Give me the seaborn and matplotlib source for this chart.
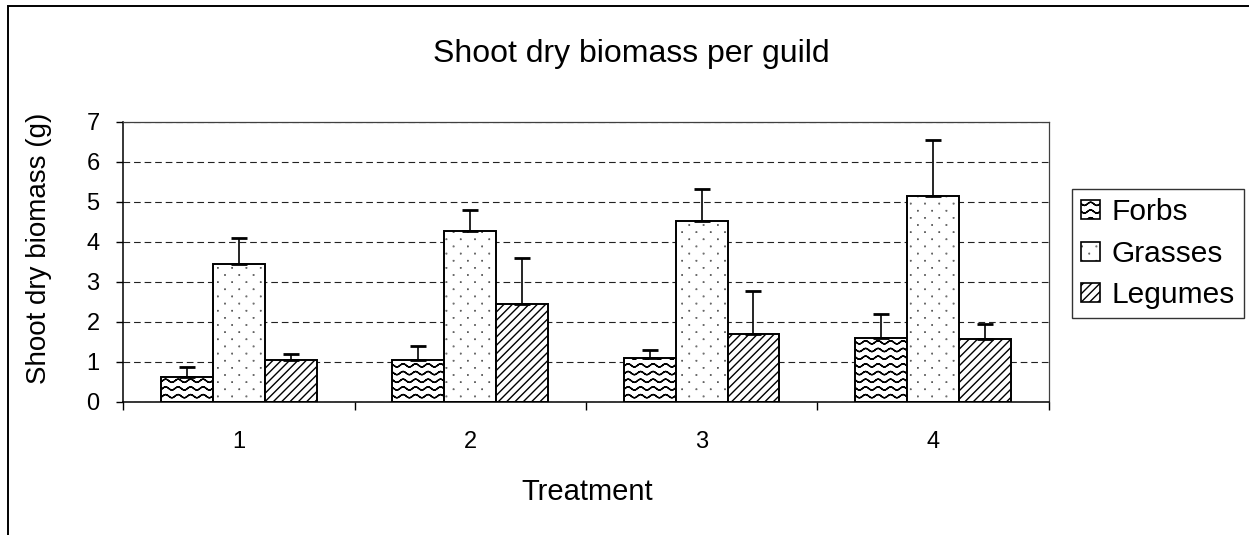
import warnings
import numpy as np
import pandas as pd
import matplotlib
matplotlib.use('Agg')
import matplotlib.pyplot as plt
from matplotlib import hatch as mhatch
from matplotlib.path import Path
from matplotlib.patches import Patch, Rectangle
import seaborn as sns

# data
treatments = ['1', '2', '3', '4']
guilds = ['Forbs', 'Grasses', 'Legumes']
forbs = [0.61, 1.03, 1.10, 1.59]
grasses = [3.45, 4.27, 4.53, 5.14]
legumes = [1.03, 2.44, 1.68, 1.57]
forbs_err = [0.25, 0.37, 0.19, 0.61]
grasses_err = [0.64, 0.52, 0.78, 1.40]
legumes_err = [0.16, 1.15, 1.09, 0.36]


# excel-like fills: wavy lines ('~') and sparse dots (':')
class WaveHatch(mhatch.HatchPatternBase):
    rows, periods, steps = 13, 8, 96

    def __init__(self, hatch, density):
        n = self.steps + 1
        self.num_vertices = self.rows * (2 * n) if '~' in hatch else 0

    def set_vertices_and_codes(self, vertices, codes):
        n = self.steps + 1
        t = np.linspace(0, 1, n)
        wave = 0.016 * np.sin(2 * np.pi * self.periods * t)
        for i in range(self.rows):
            y = (i + 0.5) / self.rows + wave
            pts = np.column_stack([t, y])
            # go there and back so the filled area is zero
            v = np.vstack([pts, pts[::-1]])
            k = i * 2 * n
            vertices[k:k + 2 * n] = v
            codes[k] = Path.MOVETO
            codes[k + 1:k + 2 * n] = Path.LINETO


class DotHatch(mhatch.HatchPatternBase):
    rows, cols = 14, 7

    def __init__(self, hatch, density):
        self.num_vertices = self.rows * self.cols * 5 if ':' in hatch else 0

    def set_vertices_and_codes(self, vertices, codes):
        s = 0.001
        square = np.array([[-s, -s], [s, -s], [s, s], [-s, s], [-s, -s]])
        k = 0
        for r in range(self.rows):
            for c in range(self.cols):
                x = (c + 0.25 + 0.5 * (r % 2)) / self.cols
                y = (r + 0.5) / self.rows
                vertices[k:k + 5] = square + [x, y]
                codes[k:k + 5] = [Path.MOVETO, Path.LINETO, Path.LINETO,
                                  Path.LINETO, Path.CLOSEPOLY]
                k += 5


mhatch._hatch_types.extend([WaveHatch, DotHatch])
warnings.filterwarnings('ignore', message='hatch must consist')

sns.set_style('white')
plt.rcParams['font.family'] = ['Liberation Sans', 'DejaVu Sans']
plt.rcParams['hatch.linewidth'] = 1.0
for key in ['text.color', 'axes.labelcolor', 'xtick.color', 'ytick.color']:
    plt.rcParams[key] = 'black'

df = pd.DataFrame({
    'Treatment': treatments * 3,
    'Guild': np.repeat(guilds, len(treatments)),
    'Biomass': forbs + grasses + legumes,
})

fig, ax = plt.subplots(figsize=(12.49, 5.35), dpi=100)
fig.subplots_adjust(left=0.0987, right=0.8395, bottom=0.2492, top=0.7725)

sns.barplot(data=df, x='Treatment', y='Biomass', hue='Guild', hue_order=guilds,
            order=treatments, palette=['white'] * 3, saturation=1,
            edgecolor='black', linewidth=1.4, width=0.673, errorbar=None,
            legend=False, ax=ax)

hatches = ['~', ':', '////']
errs = [forbs_err, grasses_err, legumes_err]
for cont, h, e in zip(ax.containers, hatches, errs):
    xs, ys = [], []
    for bar in cont:
        bar.set_hatch(h)
        xs.append(bar.get_x() + bar.get_width() / 2)
        ys.append(bar.get_height())
    ax.errorbar(xs, ys, yerr=[[0] * len(e), e], fmt='none', ecolor='black',
                elinewidth=1.2, capsize=5.6, capthick=2, zorder=3)

ax.set_ylim(0, 7)
ax.set_xlim(-0.5, len(treatments) - 0.5)
ax.set_yticks(range(8))
ax.set_axisbelow(True)
ax.yaxis.grid(True, color='#222222', linestyle=(0, (6, 3.5)), linewidth=0.8)
ax.xaxis.grid(False)

# category ticks between groups, labels in the middle
ax.set_xticks(np.arange(-0.5, len(treatments)), labels=[''] * (len(treatments) + 1))
ax.set_xticks(range(len(treatments)), labels=treatments, minor=True)
ax.tick_params(axis='x', which='major', direction='out', length=6, width=1,
               bottom=True)
ax.tick_params(axis='x', which='minor', length=0, pad=21, labelsize=17)
ax.tick_params(axis='y', direction='out', length=5, width=1, left=True,
               pad=12, labelsize=17)

for side in ['left', 'bottom']:
    ax.spines[side].set_color('black')
    ax.spines[side].set_linewidth(1.1)
for side in ['top', 'right']:
    ax.spines[side].set_color('#404040')
    ax.spines[side].set_linewidth(0.9)

ax.set_xlabel('Treatment', fontsize=21)
ax.set_ylabel('Shoot dry biomass (g)', fontsize=20)
ax.xaxis.set_label_coords(0.501, -0.272)
ax.yaxis.set_label_coords(-0.077, 0.549)

fig.text(631 / 1249, 1 - 54 / 535, 'Shoot dry biomass per guild',
         ha='center', va='center', fontsize=23)

handles = [Patch(facecolor='white', edgecolor='black', hatch=h, linewidth=1.2)
           for h in hatches]
leg = fig.legend(handles, guilds, loc='upper left',
                 bbox_to_anchor=(1071.7 / 1249, 1 - 189.3 / 535),
                 borderaxespad=0, fontsize=21.5, frameon=True, fancybox=False,
                 edgecolor='black', handlelength=0.65, handleheight=0.62,
                 handletextpad=0.38, labelspacing=0.45, borderpad=0.3)
leg.get_frame().set_linewidth(1.0)

# outer chart border (cut off on the right and bottom)
fig.add_artist(Rectangle((8.3 / 1249, -0.1), 1.2, 1 - 5.7 / 535 + 0.1,
                         transform=fig.transFigure, fill=False,
                         edgecolor='black', linewidth=1.4, clip_on=False))

fig.savefig('out.png', dpi=100)
